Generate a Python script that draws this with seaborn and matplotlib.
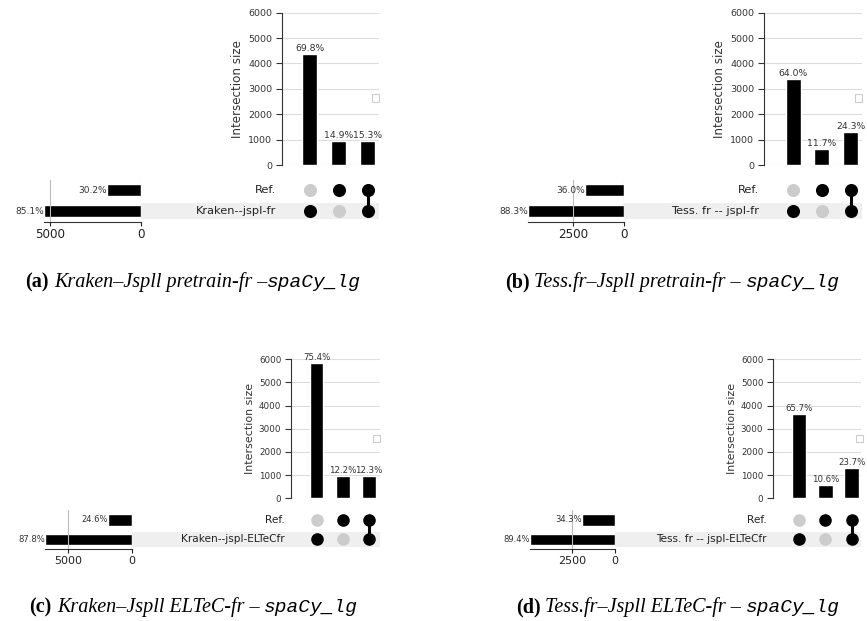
import matplotlib
matplotlib.use("Agg")
import matplotlib.pyplot as plt
from matplotlib.patches import Rectangle
import seaborn as sns

# ---------------- data ----------------
# columns of the intersection plot: second set only, Ref. only, both
set_names_a = ["Ref.", "Kraken--jspl-fr"]
inter_a = [4376, 934, 959]
inter_pct_a = ["69.8%", "14.9%", "15.3%"]
set_size_a = [1893, 5335]
set_pct_a = ["30.2%", "85.1%"]

set_names_b = ["Ref.", "Tess. fr -- jspl-fr"]
inter_b = [3398, 621, 1290]
inter_pct_b = ["64.0%", "11.7%", "24.3%"]
set_size_b = [1911, 4688]
set_pct_b = ["36.0%", "88.3%"]

set_names_c = ["Ref.", "Kraken--jspl-ELTeCfr"]
inter_c = [5857, 950, 956]
inter_pct_c = ["75.4%", "12.2%", "12.3%"]
set_size_c = [1906, 6813]
set_pct_c = ["24.6%", "87.8%"]

set_names_d = ["Ref.", "Tess. fr -- jspl-ELTeCfr"]
inter_d = [3639, 587, 1313]
inter_pct_d = ["65.7%", "10.6%", "23.7%"]
set_size_d = [1900, 4952]
set_pct_d = ["34.3%", "89.4%"]

# membership: rows = sets (Ref., other), columns = intersections
membership = [[0, 1, 1],
              [1, 0, 1]]

inter_ticks = [0, 1000, 2000, 3000, 4000, 5000, 6000]
set_ticks_a = [5000, 0]
set_ticks_b = [2500, 0]
set_ticks_c = [5000, 0]
set_ticks_d = [2500, 0]

caption_head = ["(a)", "(b)", "(c)", "(d)"]
caption_body = ["Kraken–Jspll pretrain-fr –",
                "Tess.fr–Jspll pretrain-fr – ",
                "Kraken–Jspll ELTeC-fr – ",
                "Tess.fr–Jspll ELTeC-fr – "]
caption_code = ["spaCy_lg", "spaCy_lg", "spaCy_lg", "spaCy_lg"]

# ---------------- layout (pixels) ----------------
W, H = 867, 621
layout = {
    "a": dict(ix0=282, ix1=379, itop=12.7, ibot=165, c0=309.5, sp=29.0, bw=15,
              yref=190, yset=211, set0=141, pxu=91 / 5000, lab=276, fs=1.08,
              leg=(375, 98), cap=(193.5, 287)),
    "b": dict(ix0=764, ix1=862, itop=12.7, ibot=165, c0=793.2, sp=28.75, bw=15,
              yref=190, yset=211, set0=624, pxu=51 / 2500, lab=759, fs=1.08,
              leg=(858, 98), cap=(672.5, 287)),
    "c": dict(ix0=291, ix1=380, itop=359.3, ibot=498.3, c0=316.5, sp=26.25, bw=13.5,
              yref=520, yset=539.3, set0=132, pxu=64 / 5000, lab=285, fs=1.0,
              leg=(376, 438), cap=(194, 612)),
    "d": dict(ix0=773, ix1=861, itop=359.3, ibot=498.3, c0=799, sp=26.3, bw=14.5,
              yref=520, yset=539.3, set0=615, pxu=43 / 2500, lab=767, fs=1.0,
              leg=(859, 438), cap=(678, 612)),
}

sns.set_style("white")
plt.rcParams["font.family"] = ["DejaVu Sans"]

fig = plt.figure(figsize=(W / 100, H / 100), dpi=100)


def px_rect(x0, y0, x1, y1):
    return [x0 / W, 1 - y1 / H, (x1 - x0) / W, (y1 - y0) / H]


def draw_upset(g, names, inter, inter_pct, sizes, size_pct, size_ticks):
    fs = g["fs"]
    sp = g["sp"]
    pitch = g["yset"] - g["yref"]

    # intersection size bars
    ax_i = fig.add_axes(px_rect(g["ix0"], g["itop"], g["ix1"], g["ibot"]))
    sns.barplot(x=list(range(len(inter))), y=inter, color="black", saturation=1,
                width=g["bw"] / sp, ax=ax_i)
    ax_i.set_xlim((g["ix0"] - g["c0"]) / sp, (g["ix1"] - g["c0"]) / sp)
    ax_i.set_ylim(0, 6000)
    ax_i.set_yticks(inter_ticks)
    ax_i.set_xticks([])
    ax_i.set_xlabel("")
    ax_i.set_ylabel("Intersection size", fontsize=7.9 * fs, color="#333333",
                    labelpad=3)
    ax_i.tick_params(axis="y", labelsize=6.3 * fs, length=4, width=0.8, pad=3,
                     colors="#333333", left=True)
    ax_i.grid(axis="y", color="#dddddd", lw=0.8)
    ax_i.set_axisbelow(True)
    for s in ["top", "right", "bottom"]:
        ax_i.spines[s].set_visible(False)
    ax_i.spines["left"].set_color("#333333")
    ax_i.spines["left"].set_linewidth(0.8)
    for i, (h, p) in enumerate(zip(inter, inter_pct)):
        ax_i.text(i, h + 40, p, ha="center", va="bottom", fontsize=6.2 * fs,
                  color="#333333", clip_on=False)

    # matrix of dots
    ax_m = fig.add_axes(px_rect(g["set0"], g["yref"] - pitch / 2,
                                g["ix1"], g["yset"] + pitch / 2))
    ax_m.set_xlim((g["set0"] - g["c0"]) / sp, (g["ix1"] - g["c0"]) / sp)
    ax_m.set_ylim(1.5, -0.5)
    ax_m.axis("off")
    ax_m.axhspan(1 - 0.4, 1 + 0.4, color="#efefef", zorder=0, lw=0)
    for r, row in enumerate(membership):
        for c, m in enumerate(row):
            ax_m.scatter(c, r, s=82 * fs, color="black" if m else "#cccccc",
                         zorder=3, linewidths=0)
        ax_m.text((g["lab"] - g["c0"]) / sp, r, names[r], ha="right", va="center",
                  fontsize=7.6 * fs, color="#222222")
    for c in range(len(membership[0])):
        rows = [r for r in range(len(membership)) if membership[r][c]]
        if len(rows) > 1:
            ax_m.plot([c, c], [min(rows), max(rows)], color="black", lw=2.2, zorder=2)

    # set size bars
    width_px = max(sizes) * g["pxu"]
    ax_s = fig.add_axes(px_rect(g["set0"] - width_px, g["yref"] - pitch / 2,
                                g["set0"], g["yset"] + pitch / 2))
    sns.barplot(x=sizes, y=names, orient="h", color="black", saturation=1,
                width=0.6, ax=ax_s)
    ax_s.set_xlim(max(sizes), 0)
    ax_s.set_ylim(1.5, -0.5)
    ax_s.set_yticks([])
    ax_s.set_ylabel("")
    ax_s.set_xlabel("")
    ax_s.set_xticks(size_ticks)
    ax_s.tick_params(axis="x", labelsize=8 * fs, length=3, width=0.8,
                     colors="#222222", bottom=True, pad=2)
    ax_s.set_axisbelow(False)
    ax_s.grid(axis="x", color="#bbbbbb", lw=0.8, zorder=5)
    for s in ["top", "right", "left"]:
        ax_s.spines[s].set_visible(False)
    ax_s.spines["bottom"].set_color("#333333")
    ax_s.spines["bottom"].set_linewidth(0.8)
    for i, (v, p) in enumerate(zip(sizes, size_pct)):
        ax_s.text(v, i, p, ha="right", va="center", fontsize=6.0 * fs,
                  color="#333333", clip_on=False)

    # empty legend box
    lx, ly = g["leg"]
    fig.add_artist(Rectangle(((lx - 3.5) / W, 1 - (ly + 3.5) / H), 7 / W, 7 / H,
                             transform=fig.transFigure, fill=False,
                             edgecolor="#cccccc", lw=0.8))


renderer = fig.canvas.get_renderer()


def text_width(s, props):
    t1 = fig.text(0, 0, "|" + s + "|", **props)
    t2 = fig.text(0, 0, "||", **props)
    w = t1.get_window_extent(renderer).width - t2.get_window_extent(renderer).width
    t1.remove()
    t2.remove()
    return w


head_props = dict(family="Liberation Serif", weight="bold", fontsize=14.5, color="black")
body_props = dict(family="Liberation Serif", style="italic", fontsize=14.5, color="black")
code_props = dict(family="Liberation Mono", style="italic", fontsize=14, color="black")


def draw_caption(xc, y, head, body, code):
    parts = [(head, head_props), (" ", body_props), (body, body_props),
             (code, code_props)]
    widths = [text_width(s, p) for s, p in parts]
    x = xc - sum(widths) / 2
    for (s, props), w in zip(parts, widths):
        if s.strip():
            fig.text(x / W, 1 - y / H, s.strip(), ha="left", va="baseline", **props)
        x += w


panels = [
    ("a", set_names_a, inter_a, inter_pct_a, set_size_a, set_pct_a, set_ticks_a),
    ("b", set_names_b, inter_b, inter_pct_b, set_size_b, set_pct_b, set_ticks_b),
    ("c", set_names_c, inter_c, inter_pct_c, set_size_c, set_pct_c, set_ticks_c),
    ("d", set_names_d, inter_d, inter_pct_d, set_size_d, set_pct_d, set_ticks_d),
]
for k, (key, names, inter, ipct, sizes, spct, sticks) in enumerate(panels):
    g = layout[key]
    draw_upset(g, names, inter, ipct, sizes, spct, sticks)
    draw_caption(g["cap"][0], g["cap"][1], caption_head[k], caption_body[k],
                 caption_code[k])

fig.savefig("out.png", dpi=100)
